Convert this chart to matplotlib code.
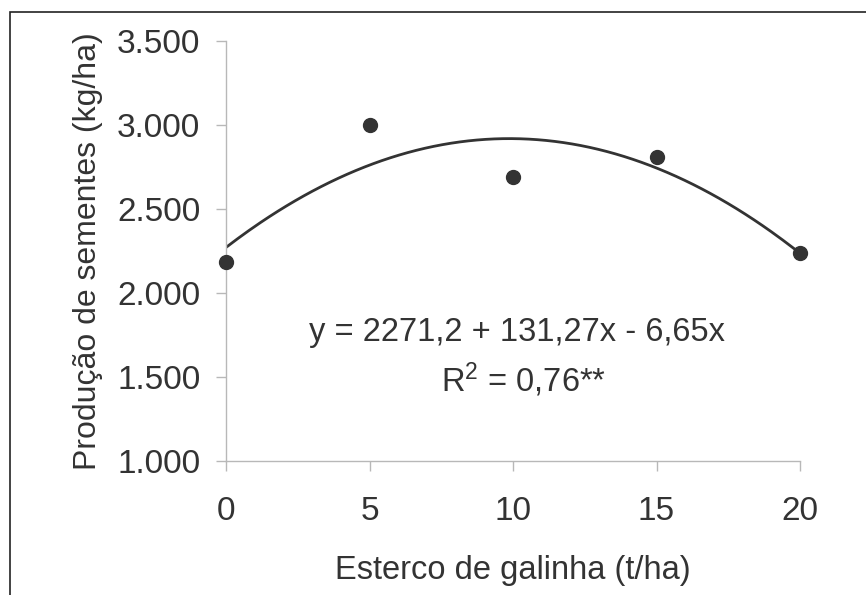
import matplotlib
matplotlib.use("Agg")
import matplotlib.pyplot as plt
import numpy as np
from matplotlib.patches import Rectangle

# Data
doses = [0, 5, 10, 15, 20]
producao = [2185, 3000, 2690, 2810, 2236]
coef = [2271.2, 131.27, -6.65]
yticks = [1000, 1500, 2000, 2500, 3000, 3500]
ytick_labels = ["1.000", "1.500", "2.000", "2.500", "3.000", "3.500"]
xticks = [0, 5, 10, 15, 20]
eq_text = "y = 2271,2 + 131,27x - 6,65x"
r2_text = "R$^2$ = 0,76**"
xlabel = "Esterco de galinha (t/ha)"
ylabel = "Produção de sementes (kg/ha)"

plt.rcParams['font.family'] = ['Liberation Sans', 'DejaVu Sans']
plt.rcParams['mathtext.fontset'] = 'custom'
plt.rcParams['mathtext.rm'] = 'Liberation Sans'
plt.rcParams['mathtext.it'] = 'Liberation Sans'

dark = '#333333'
spine_c = '#b8b8b8'

fig = plt.figure(figsize=(8.66, 5.95), dpi=100)
W, H = 866, 595
ax = fig.add_axes([226 / W, (H - 461) / H, (800 - 226) / W, (461 - 41) / H])

xs = np.linspace(0, 20, 200)
ys = coef[0] + coef[1] * xs + coef[2] * xs ** 2
ax.plot(xs, ys, color=dark, lw=2.0, zorder=2)
ax.plot(doses, producao, 'o', color=dark, ms=10, zorder=3, clip_on=False)

ax.set_xlim(0, 20)
ax.set_ylim(1000, 3500)
ax.set_xticks(xticks)
ax.set_xticklabels([str(v) for v in xticks])
ax.set_yticks(yticks)
ax.set_yticklabels(ytick_labels)

for s in ['top', 'right']:
    ax.spines[s].set_visible(False)
for s in ['left', 'bottom']:
    ax.spines[s].set_color(spine_c)
    ax.spines[s].set_linewidth(1.0)

ax.tick_params(axis='both', direction='out', length=7.5, width=1.0, color=spine_c,
               labelsize=24, labelcolor=dark)
ax.tick_params(axis='y', pad=11)
ax.tick_params(axis='x', pad=18)

ax.set_xlabel(xlabel, fontsize=23.5, color=dark, labelpad=20)
ax.set_ylabel(ylabel, fontsize=23, color=dark, labelpad=10)

ax.text(517 / W, (H - 333) / H, eq_text, transform=fig.transFigure, ha='center', va='center',
        fontsize=23.5, color=dark)
ax.text(524 / W, (H - 380) / H, r2_text, transform=fig.transFigure, ha='center', va='center',
        fontsize=23.5, color=dark)

fig.patches.append(Rectangle((9.5 / W, -0.1), 2.0, (H - 12) / H + 0.1, transform=fig.transFigure,
                             fill=False, edgecolor='#222222', lw=1.2))

fig.savefig('out.png', dpi=100)
